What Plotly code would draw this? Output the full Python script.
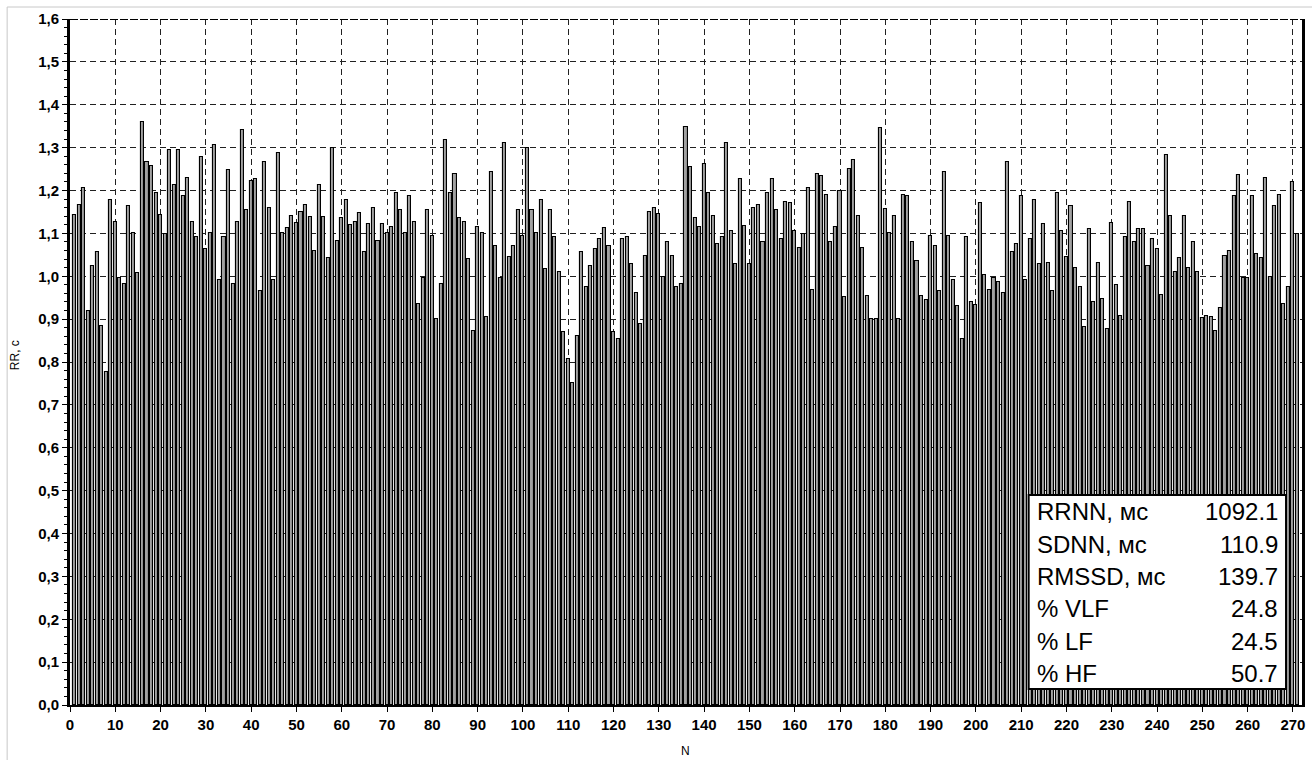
import plotly.graph_objects as go

# RR intervals (s) for beats 1..271
rr_values = [
    1.143, 1.166, 1.207, 0.920, 1.024, 1.056, 0.884, 0.777, 1.178, 1.126,
    0.995, 0.983, 1.163, 1.102, 1.007, 1.360, 1.266, 1.258, 1.194, 1.143,
    1.098, 1.294, 1.214, 1.294, 1.187, 1.230, 1.127, 1.092, 1.278, 1.064,
    1.102, 1.305, 0.991, 1.091, 1.247, 0.983, 1.127, 1.342, 1.155, 1.222,
    1.227, 0.965, 1.266, 1.159, 0.991, 1.287, 1.102, 1.112, 1.140, 1.124,
    1.151, 1.166, 1.139, 1.060, 1.214, 1.139, 1.043, 1.300, 1.082, 1.135,
    1.178, 1.120, 1.127, 1.148, 1.056, 1.123, 1.159, 1.083, 1.123, 1.102,
    1.116, 1.194, 1.155, 1.102, 1.187, 1.127, 0.935, 0.997, 1.155, 1.095,
    0.900, 0.983, 1.318, 1.194, 1.238, 1.135, 1.127, 1.040, 0.873, 1.114,
    1.102, 0.904, 1.243, 1.071, 0.995, 1.310, 1.044, 1.071, 1.155, 1.095,
    1.299, 1.155, 1.102, 1.178, 1.017, 1.155, 1.091, 1.011, 0.869, 0.807,
    0.750, 0.861, 1.056, 0.976, 1.023, 1.064, 1.087, 1.112, 1.071, 0.870,
    0.853, 1.087, 1.091, 1.029, 0.960, 0.888, 1.048, 1.151, 1.159, 1.145,
    0.999, 1.079, 1.048, 0.976, 0.983, 1.349, 1.254, 1.135, 1.116, 1.262,
    1.194, 1.140, 1.075, 1.091, 1.310, 1.106, 1.029, 1.227, 1.118, 1.029,
    1.159, 1.166, 1.079, 1.194, 1.227, 1.155, 1.087, 1.174, 1.170, 1.106,
    1.067, 1.099, 1.207, 0.968, 1.238, 1.233, 1.190, 1.079, 1.116, 1.200,
    0.951, 1.250, 1.271, 1.140, 1.067, 0.953, 0.900, 0.900, 1.346, 1.157,
    1.102, 1.140, 0.900, 1.190, 1.187, 1.079, 1.036, 0.953, 0.944, 1.095,
    1.071, 0.965, 1.242, 1.095, 0.991, 0.931, 0.853, 1.091, 0.941, 0.934,
    1.171, 1.004, 0.968, 0.997, 0.987, 0.960, 1.266, 1.056, 1.075, 1.188,
    0.991, 1.087, 1.178, 1.029, 1.123, 1.032, 0.965, 1.194, 1.106, 1.044,
    1.163, 1.019, 0.976, 0.881, 1.110, 0.941, 1.032, 0.948, 0.877, 1.124,
    0.979, 0.908, 1.091, 1.174, 1.079, 1.110, 1.110, 1.025, 1.087, 1.064,
    0.956, 1.282, 1.141, 1.011, 1.043, 1.141, 1.019, 1.079, 1.011, 0.902,
    0.908, 0.904, 0.873, 0.927, 1.048, 1.058, 1.187, 1.237, 0.997, 0.997,
    1.187, 1.052, 1.043, 1.229, 0.999, 1.163, 1.190, 0.935, 0.976, 1.219,
    1.098,
]
beat_index = list(range(1, len(rr_values) + 1))

x_ticks = list(range(0, 271, 10))
y_ticks = [0.0, 0.1, 0.2, 0.3, 0.4, 0.5, 0.6, 0.7, 0.8, 0.9,
           1.0, 1.1, 1.2, 1.3, 1.4, 1.5, 1.6]

stat_labels = ["RRNN, мс", "SDNN, мс", "RMSSD, мс", "% VLF", "% LF", "% HF"]
stat_values = ["1092.1", "110.9", "139.7", "24.8", "24.5", "50.7"]

W, H = 1312, 760
ML, MR, MT, MB = 70, 7, 19, 55
PW, PH = W - ML - MR, H - MT - MB


def px_x(px):
    return (px - ML) / PW


def px_y(py):
    return (H - MB - py) / PH


fig = go.Figure()
fig.add_trace(go.Bar(
    x=beat_index, y=rr_values, width=0.68,
    marker=dict(color="#a2a2a2", line=dict(color="#000000", width=1.1)),
    showlegend=False, hoverinfo="x+y",
))

tick_font = dict(family="Liberation Sans, Arial, sans-serif", size=15,
                 color="#000000", weight="bold")
grid_kw = dict(showgrid=True, gridcolor="#202020", gridwidth=1, griddash="6px,4px")

fig.update_xaxes(
    range=[0, 272], tickmode="array", tickvals=x_ticks,
    ticks="outside", ticklen=5, tickwidth=1, tickcolor="#000",
    showline=True, linecolor="#000", linewidth=2,
    tickfont=tick_font, zeroline=False, **grid_kw,
)
fig.update_yaxes(
    range=[0, 1.6], tickmode="array", tickvals=y_ticks, tickformat=".1f",
    ticks="outside", ticklen=5, tickwidth=1, tickcolor="#000",
    minor=dict(dtick=0.02, ticks="outside", ticklen=3, tickcolor="#000",
               showgrid=False),
    showline=True, linecolor="#000", linewidth=3, mirror=True,
    tickfont=tick_font, zeroline=False, **grid_kw,
)

shapes = [
    # top gridline at 1,6 drawn heavier
    dict(type="line", xref="paper", yref="y", x0=0, x1=1, y0=1.6, y1=1.6,
         line=dict(color="#000", width=2, dash="8px,2px")),
    # light frame around the whole figure
    dict(type="line", xref="paper", yref="paper", x0=px_x(7), x1=px_x(W + 5),
         y0=px_y(7), y1=px_y(7), line=dict(color="#c8c8c8", width=1)),
    dict(type="line", xref="paper", yref="paper", x0=px_x(7), x1=px_x(7),
         y0=px_y(7), y1=px_y(H + 5), line=dict(color="#c8c8c8", width=1)),
    # statistics box
    dict(type="rect", xref="paper", yref="paper",
         x0=px_x(1031), x1=px_x(1289), y0=px_y(689), y1=px_y(495),
         fillcolor="#ffffff", line=dict(color="#000", width=2), layer="above"),
]

box_font = dict(family="Liberation Sans, Arial, sans-serif", size=24, color="#000")
line_y = [511, 544, 576, 608, 641, 673]
annotations = []
for lab, val, py in zip(stat_labels, stat_values, line_y):
    annotations.append(dict(text=lab, xref="paper", yref="paper",
                            x=px_x(1037), y=px_y(py), xanchor="left",
                            yanchor="middle", showarrow=False, font=box_font))
    annotations.append(dict(text=val, xref="paper", yref="paper",
                            x=px_x(1283), y=px_y(py), xanchor="right",
                            yanchor="middle", showarrow=False, font=box_font))

axis_title_font = dict(family="Liberation Sans, Arial, sans-serif", size=12, color="#000")
annotations.append(dict(text="RR, с", xref="paper", yref="paper",
                        x=px_x(15), y=px_y(355), textangle=-90,
                        xanchor="center", yanchor="middle", showarrow=False,
                        font=axis_title_font))
annotations.append(dict(text="N", xref="paper", yref="paper",
                        x=px_x(687), y=px_y(751), xanchor="center",
                        yanchor="middle", showarrow=False, font=axis_title_font))

fig.update_layout(
    width=W, height=H,
    margin=dict(l=ML, r=MR, t=MT, b=MB),
    paper_bgcolor="#ffffff", plot_bgcolor="#ffffff",
    separators=",.", bargap=0,
    shapes=shapes, annotations=annotations,
)

fig.write_html("out.html")
